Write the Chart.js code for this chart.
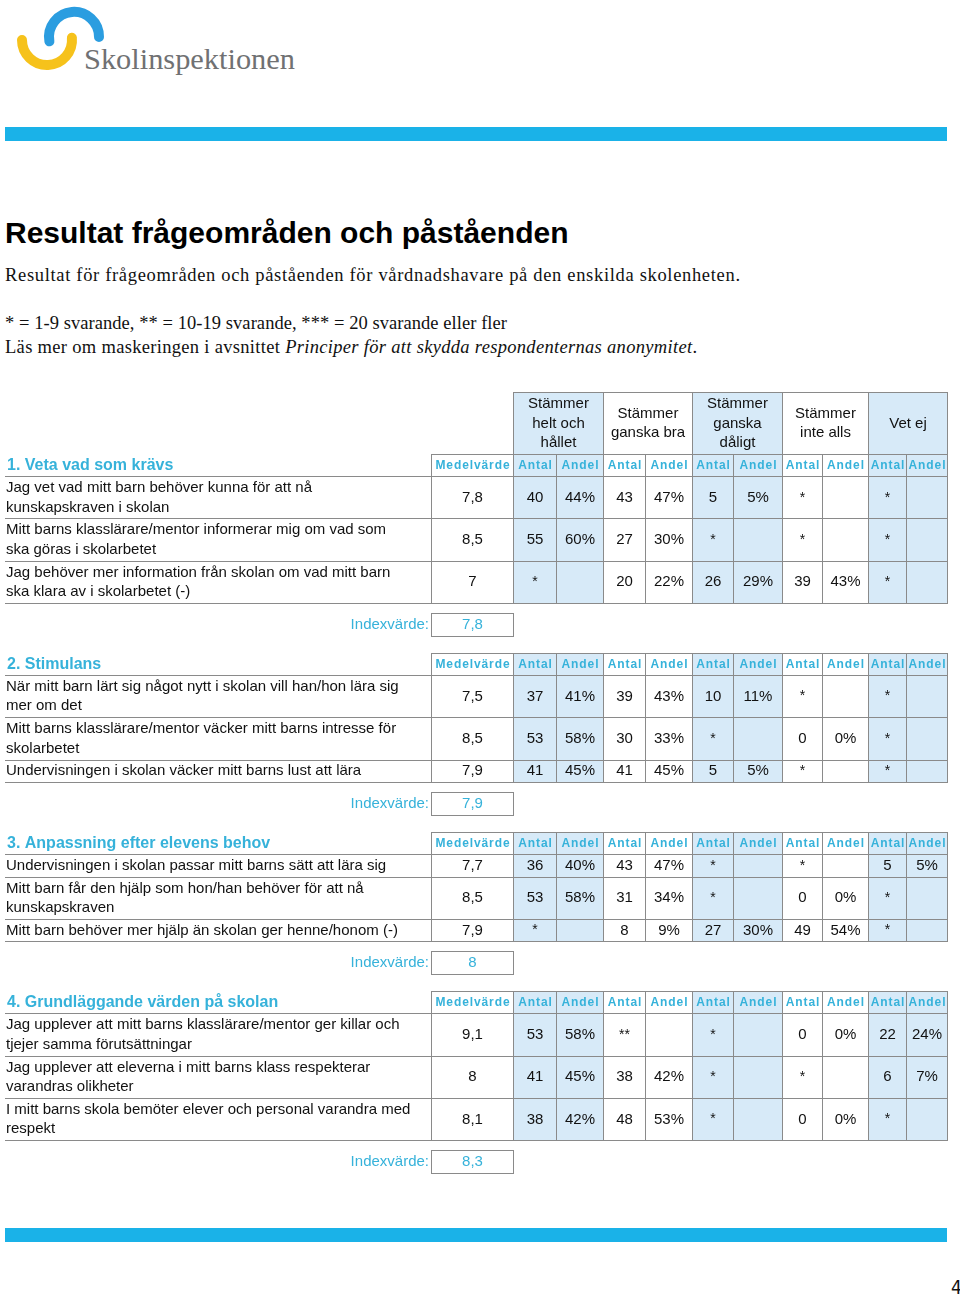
<!DOCTYPE html>
<html>
<head>
<meta charset="utf-8">
<title>Resultat frågeområden och påståenden</title>
<script src="https://cdn.jsdelivr.net/npm/chart.js@4.4.1/dist/chart.umd.min.js"></script>
<style>
  html, body { margin: 0; padding: 0; background: #fff; }
  body { width: 960px; height: 1295px; position: relative; overflow: hidden; }
  #page { position: absolute; left: 0; top: 0; }
  #tableWrap { position: absolute; left: 0; top: 390px; width: 960px; height: 790px; }
  .serif { font-family: "Liberation Serif", "DejaVu Serif", serif; font-size: 18.5px; fill: #111; }
</style>
</head>
<body>
<svg id="page" width="960" height="1295">
  <!-- logo -->
  <path d="M49.4 41.3 A25 25 0 1 1 99 37" fill="none" stroke="#2b9de0" stroke-width="10" stroke-linecap="round"/>
  <path d="M22 40 A25 25 0 1 0 71.9 37.8" fill="none" stroke="#f6c21b" stroke-width="10" stroke-linecap="round"/>
  <text x="84" y="69" font-family="Liberation Serif, serif" font-size="30" fill="#707173" textLength="211" lengthAdjust="spacingAndGlyphs">Skolinspektionen</text>

  <rect x="5" y="127" width="942" height="14" fill="#1ab2e8"/>

  <text x="5" y="243" font-family="Liberation Sans, Arial, sans-serif" font-weight="bold" font-size="30" fill="#000">Resultat frågeområden och påståenden</text>
  <text class="serif" x="5" y="281" textLength="735" lengthAdjust="spacing">Resultat för frågeområden och påståenden för vårdnadshavare på den enskilda skolenheten.</text>
  <text class="serif" x="5" y="329" textLength="502" lengthAdjust="spacing">* = 1-9 svarande, ** = 10-19 svarande, *** = 20 svarande eller fler</text>
  <text class="serif" x="5" y="353" textLength="692" lengthAdjust="spacing">Läs mer om maskeringen i avsnittet <tspan font-style="italic">Principer för att skydda respondenternas anonymitet</tspan>.</text>

  <rect x="5" y="1228" width="942" height="14" fill="#1ab2e8"/>
  <text x="951" y="1294" font-family="Liberation Sans Narrow, DejaVu Sans Condensed, sans-serif" font-size="19" fill="#111">4</text>
</svg>

<div id="tableWrap"><canvas id="surveyTable" width="960" height="790"></canvas></div>

<script>
// ---- data ----
const groupLabels = [
  ['Stämmer', 'helt och', 'hållet'],
  ['Stämmer', 'ganska bra'],
  ['Stämmer', 'ganska', 'dåligt'],
  ['Stämmer', 'inte alls'],
  ['Vet ej']
];
const columnLabels = ['Medelvärde', 'Antal', 'Andel', 'Antal', 'Andel', 'Antal', 'Andel', 'Antal', 'Andel', 'Antal', 'Andel'];
const indexLabel = 'Indexvärde:';

const s1Title = '1. Veta vad som krävs';
const s1Statements = [
  ['Jag vet vad mitt barn behöver kunna för att nå', 'kunskapskraven i skolan'],
  ['Mitt barns klasslärare/mentor informerar mig om vad som', 'ska göras i skolarbetet'],
  ['Jag behöver mer information från skolan om vad mitt barn', 'ska klara av i skolarbetet (-)']
];
const s1Mean = [7.8, 8.5, 7];
const s1Antal = [[40, 43, 5, '*', '*'], [55, 27, '*', '*', '*'], ['*', 20, 26, 39, '*']];
const s1Andel = [[44, 47, 5, null, null], [60, 30, null, null, null], [null, 22, 29, 43, null]];
const s1Index = 7.8;

const s2Title = '2. Stimulans';
const s2Statements = [
  ['När mitt barn lärt sig något nytt i skolan vill han/hon lära sig', 'mer om det'],
  ['Mitt barns klasslärare/mentor väcker mitt barns intresse för', 'skolarbetet'],
  ['Undervisningen i skolan väcker mitt barns lust att lära']
];
const s2Mean = [7.5, 8.5, 7.9];
const s2Antal = [[37, 39, 10, '*', '*'], [53, 30, '*', 0, '*'], [41, 41, 5, '*', '*']];
const s2Andel = [[41, 43, 11, null, null], [58, 33, null, 0, null], [45, 45, 5, null, null]];
const s2Index = 7.9;

const s3Title = '3. Anpassning efter elevens behov';
const s3Statements = [
  ['Undervisningen i skolan passar mitt barns sätt att lära sig'],
  ['Mitt barn får den hjälp som hon/han behöver för att nå', 'kunskapskraven'],
  ['Mitt barn behöver mer hjälp än skolan ger henne/honom (-)']
];
const s3Mean = [7.7, 8.5, 7.9];
const s3Antal = [[36, 43, '*', '*', 5], [53, 31, '*', 0, '*'], ['*', 8, 27, 49, '*']];
const s3Andel = [[40, 47, null, null, 5], [58, 34, null, 0, null], [null, 9, 30, 54, null]];
const s3Index = 8;

const s4Title = '4. Grundläggande värden på skolan';
const s4Statements = [
  ['Jag upplever att mitt barns klasslärare/mentor ger killar och', 'tjejer samma förutsättningar'],
  ['Jag upplever att eleverna i mitt barns klass respekterar', 'varandras olikheter'],
  ['I mitt barns skola bemöter elever och personal varandra med', 'respekt']
];
const s4Mean = [9.1, 8, 8.1];
const s4Antal = [[53, '**', '*', 0, 22], [41, 38, '*', '*', 6], [38, 48, '*', 0, '*']];
const s4Andel = [[58, null, null, 0, 24], [45, 42, null, null, 7], [42, 53, null, 0, null]];
const s4Index = 8.3;

const sections = [
  { title: s1Title, statements: s1Statements, mean: s1Mean, antal: s1Antal, andel: s1Andel, index: s1Index },
  { title: s2Title, statements: s2Statements, mean: s2Mean, antal: s2Antal, andel: s2Andel, index: s2Index },
  { title: s3Title, statements: s3Statements, mean: s3Mean, antal: s3Antal, andel: s3Andel, index: s3Index },
  { title: s4Title, statements: s4Statements, mean: s4Mean, antal: s4Antal, andel: s4Andel, index: s4Index }
];

// ---- layout / style ----
const TABLE_W = 960, TABLE_H = 790;
const COL_X = [5, 431, 513, 556, 603, 645, 692, 733, 782, 822, 868, 906, 947];
const BLUE = '#d7eaf8';
const COL_FILL = [null, '#fff', BLUE, BLUE, '#fff', '#fff', BLUE, BLUE, '#fff', '#fff', BLUE, BLUE];
const GROUP_H = 62, HEAD_H = 22, ROW1_H = 22.5, ROW2_H = 42.3;
const INDEX_GAP = 10, INDEX_H = 23, SECTION_GAP = 17;
const LINE_H = 19.5;
const TEAL = '#36b2da', INK = '#111', RULE = '#8a8a8a';
const SANS = '"Liberation Sans", Arial, Helvetica, sans-serif';
const BODY_FONT = '15px ' + SANS;
const STAR_FONT = '14px ' + SANS;
const HEAD_FONT = 'bold 12px ' + SANS;
const TITLE_FONT = 'bold 16px ' + SANS;

const fmtNum = v => String(v).replace('.', ',');
const fmtAntal = v => (typeof v === 'string' ? v : String(v));
const fmtAndel = v => (v === null ? '' : v + '%');

function buildCells() {
  const cells = [];
  let y = 2;
  groupLabels.forEach((lines, g) => {
    const c = 2 + g * 2;
    cells.push({ x0: COL_X[c], x1: COL_X[c + 2], y0: y, y1: y + GROUP_H, bg: COL_FILL[c], edges: 'tlr',
      lines, font: BODY_FONT, color: INK });
  });
  y += GROUP_H;

  sections.forEach(sec => {
    cells.push({ x0: COL_X[0] + 1, x1: COL_X[1], y0: y, y1: y + HEAD_H, edges: '',
      lines: [sec.title], font: TITLE_FONT, color: TEAL, align: 'left' });
    columnLabels.forEach((lab, i) => {
      cells.push({ x0: COL_X[i + 1], x1: COL_X[i + 2], y0: y, y1: y + HEAD_H, bg: COL_FILL[i + 1], edges: 'tlbr',
        lines: [lab], font: HEAD_FONT, color: TEAL, spacing: 0.9 });
    });
    y += HEAD_H;

    sec.statements.forEach((st, r) => {
      const h = st.length > 1 ? ROW2_H : ROW1_H;
      cells.push({ x0: COL_X[0], x1: COL_X[1], y0: y, y1: y + h, edges: 'tb',
        lines: st, font: BODY_FONT, color: INK, align: 'left' });
      cells.push({ x0: COL_X[1], x1: COL_X[2], y0: y, y1: y + h, bg: COL_FILL[1], edges: 'tlbr',
        lines: [fmtNum(sec.mean[r])], font: BODY_FONT, color: INK });
      for (let k = 0; k < 5; k++) {
        const a = fmtAntal(sec.antal[r][k]);
        const c = 2 + k * 2;
        cells.push({ x0: COL_X[c], x1: COL_X[c + 1], y0: y, y1: y + h, bg: COL_FILL[c], edges: 'tlbr',
          lines: [a], font: a.indexOf('*') >= 0 ? STAR_FONT : BODY_FONT, color: INK });
        cells.push({ x0: COL_X[c + 1], x1: COL_X[c + 2], y0: y, y1: y + h, bg: COL_FILL[c + 1], edges: 'tlbr',
          lines: [fmtAndel(sec.andel[r][k])], font: BODY_FONT, color: INK });
      }
      y += h;
    });

    y += INDEX_GAP;
    cells.push({ x0: COL_X[0], x1: COL_X[1] - 2, y0: y, y1: y + INDEX_H, edges: '',
      lines: [indexLabel], font: BODY_FONT, color: TEAL, align: 'right' });
    cells.push({ x0: COL_X[1], x1: COL_X[2], y0: y, y1: y + INDEX_H, bg: '#fff', edges: 'tlbr',
      lines: [fmtNum(sec.index)], font: BODY_FONT, color: TEAL });
    y += INDEX_H + SECTION_GAP;
  });
  return cells;
}

const tableCells = buildCells();

const tablePlugin = {
  id: 'surveyTable',
  afterDraw(chart) {
    const { ctx, scales: { x, y } } = chart;
    const px = v => Math.round(x.getPixelForValue(v));
    const py = v => Math.round(y.getPixelForValue(v));

    ctx.save();
    // cell backgrounds
    tableCells.forEach(c => {
      if (!c.bg) return;
      ctx.fillStyle = c.bg;
      ctx.fillRect(px(c.x0), py(c.y0), px(c.x1) - px(c.x0), py(c.y1) - py(c.y0));
    });
    // rules
    ctx.fillStyle = RULE;
    tableCells.forEach(c => {
      const l = px(c.x0), r = px(c.x1), t = py(c.y0), b = py(c.y1);
      if (c.edges.includes('t')) ctx.fillRect(l, t, r - l + 1, 1);
      if (c.edges.includes('b')) ctx.fillRect(l, b, r - l + 1, 1);
      if (c.edges.includes('l')) ctx.fillRect(l, t, 1, b - t + 1);
      if (c.edges.includes('r')) ctx.fillRect(r, t, 1, b - t + 1);
    });
    // text
    ctx.textBaseline = 'middle';
    tableCells.forEach(c => {
      ctx.font = c.font;
      ctx.fillStyle = c.color;
      if ('letterSpacing' in ctx) ctx.letterSpacing = (c.spacing || 0) + 'px';
      const l = x.getPixelForValue(c.x0), r = x.getPixelForValue(c.x1);
      const mid = (y.getPixelForValue(c.y0) + y.getPixelForValue(c.y1)) / 2;
      const n = c.lines.length;
      c.lines.forEach((line, i) => {
        const ty = mid + (i - (n - 1) / 2) * LINE_H + 0.5;
        if (c.align === 'left') {
          ctx.textAlign = 'left';
          ctx.fillText(line, l + 1, ty);
        } else if (c.align === 'right') {
          ctx.textAlign = 'right';
          ctx.fillText(line, r, ty);
        } else {
          ctx.textAlign = 'center';
          ctx.fillText(line, (l + r) / 2 + (c.spacing || 0) / 2 + 0.5, ty);
        }
      });
    });
    if ('letterSpacing' in ctx) ctx.letterSpacing = '0px';
    ctx.restore();
  }
};

new Chart(document.getElementById('surveyTable'), {
  type: 'scatter',
  data: { datasets: [] },
  options: {
    responsive: false,
    animation: false,
    events: [],
    layout: { padding: 0 },
    scales: {
      x: { type: 'linear', min: 0, max: TABLE_W, display: false },
      y: { type: 'linear', min: 0, max: TABLE_H, reverse: true, display: false }
    },
    plugins: {
      legend: { display: false },
      tooltip: { enabled: false }
    }
  },
  plugins: [tablePlugin]
});
</script>
</body>
</html>
